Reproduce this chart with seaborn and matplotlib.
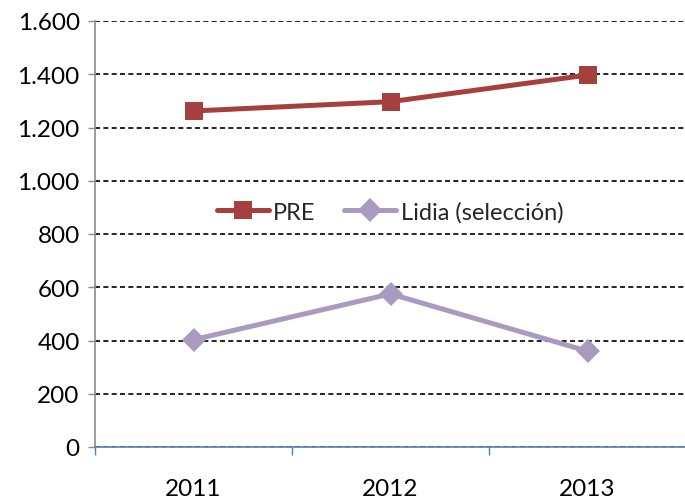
import pandas as pd
import numpy as np
import matplotlib
matplotlib.use('Agg')
import matplotlib.pyplot as plt
import seaborn as sns
from matplotlib.ticker import FuncFormatter, FixedLocator

# data
years = ['2011', '2012', '2013']
pre = [1262, 1297, 1397]
lidia = [403, 575, 360]
y_ticks = [0, 200, 400, 600, 800, 1000, 1200, 1400, 1600]

sns.set_style('white')
plt.rcParams['font.family'] = ['Lato', 'DejaVu Sans']

df = pd.DataFrame({'pos': np.arange(len(years)), 'PRE': pre, 'Lidia (selección)': lidia})

fig = plt.figure(figsize=(6.85, 5.02), dpi=100)
ax = fig.add_axes([95 / 685, 1 - 448 / 502, 591 / 685, 426 / 502])

sns.lineplot(data=df, x='pos', y='PRE', ax=ax, color='#A5403E', lw=3.6,
             marker='s', markersize=13, markeredgewidth=0, label='PRE', zorder=4)
sns.lineplot(data=df, x='pos', y='Lidia (selección)', ax=ax, color='#A89BBF', lw=3.6,
             marker='D', markersize=12, markeredgewidth=0, label='Lidia (selección)', zorder=4)

ax.set_xlim(-0.5, len(years) - 0.5)
ax.set_ylim(0, 1600)
ax.set_yticks(y_ticks)
ax.yaxis.set_major_formatter(FuncFormatter(lambda v, p: f'{int(v):,}'.replace(',', '.')))
ax.set_xticks(df['pos'])
ax.set_xticklabels(years)
ax.xaxis.set_minor_locator(FixedLocator(np.arange(-0.5, len(years), 1.0)))
ax.set_xlabel('')
ax.set_ylabel('')

ax.grid(axis='y', color='black', linestyle=(0, (3, 2)), linewidth=1.2)
ax.grid(axis='x', visible=False)
ax.set_axisbelow(True)

for s in ['top', 'right']:
    ax.spines[s].set_visible(False)
ax.spines['left'].set_color('#8C8C8C')
ax.spines['left'].set_linewidth(1.2)
ax.spines['bottom'].set_color('#4F81BD')
ax.spines['bottom'].set_linewidth(1.2)
ax.spines['bottom'].set_zorder(5)

ax.tick_params(axis='y', which='major', left=True, length=5, width=1, color='#8C8C8C',
               labelsize=17.5, pad=6, labelcolor='black')
ax.tick_params(axis='x', which='major', bottom=False, labelsize=17.5, pad=19, labelcolor='black')
ax.tick_params(axis='x', which='minor', bottom=True, length=6, width=1, color='#4F81BD')

ax.legend(loc='center', bbox_to_anchor=(390 / 685, 1 - 213 / 502), bbox_transform=fig.transFigure,
          ncol=2, frameon=False, fontsize=17, handlelength=2.2, columnspacing=1.2, handletextpad=0.2)

fig.savefig('out.png', dpi=100)
